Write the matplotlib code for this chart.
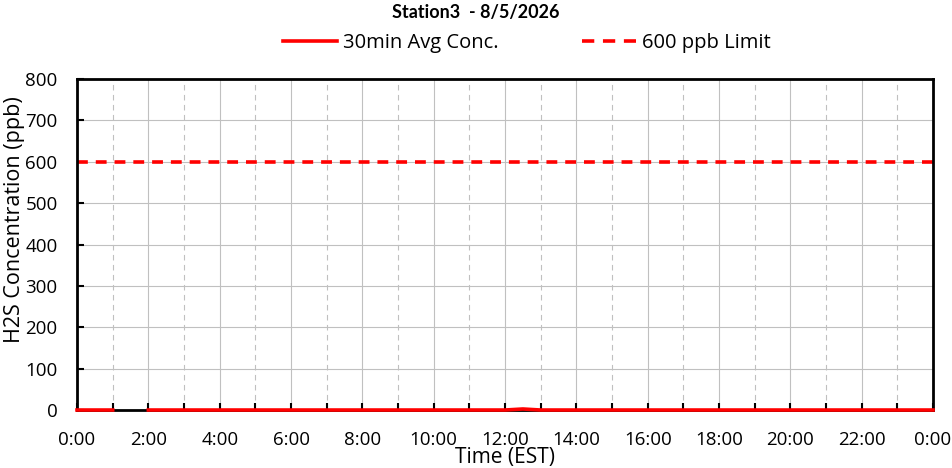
import numpy as np
import matplotlib.pyplot as plt
from matplotlib.lines import Line2D

plt.rcParams['font.family'] = ['Open Sans', 'DejaVu Sans']

# --- data: 30 min averages, hours since midnight ---
hours = np.arange(0, 24.5, 0.5)
conc = np.zeros(len(hours))
conc[3] = np.nan          # 1:30 missing
conc[25] = 2.5            # 12:30 small bump
limit = 600
tick_hours = list(range(0, 25, 2))
tick_labels = [f"{h % 24}:00" for h in tick_hours]

fig = plt.figure(figsize=(9.52, 4.68), dpi=100)
ax = fig.add_axes([0.0809, 0.1239, 0.8992, 0.7073])

# grid: solid on even hours, dashed on odd hours
for h in range(1, 24):
    if h % 2 == 0:
        ax.axvline(h, color='#c0c0c0', lw=0.8, zorder=0)
    else:
        ax.axvline(h, color='#c0c0c0', lw=0.8, ls=(0, (5, 4)), zorder=0)
for v in range(100, 800, 100):
    ax.axhline(v, color='#c0c0c0', lw=0.8, zorder=0)

ax.plot(hours, conc, color='#ff0000', lw=2.6, zorder=5, clip_on=False)
ax.axhline(limit, color='#ff0000', lw=2.6, ls=(0, (3, 2.2)), zorder=3)

ax.set_xlim(0, 24)
ax.set_ylim(0, 800)
ax.set_xticks(tick_hours)
ax.set_xticklabels(tick_labels)
ax.set_xticks(range(0, 25), minor=True)
ax.set_yticks(range(0, 801, 100))
ax.tick_params(axis='both', which='both', direction='in', labelsize=13.5, width=1.5, length=5)
ax.tick_params(axis='x', which='major', pad=15)
ax.tick_params(axis='y', pad=14)
for s in ax.spines.values():
    s.set_linewidth(2)
    s.set_zorder(4)

ax.set_xlabel('Time (EST)', fontsize=15, labelpad=-1)
ax.set_ylabel('H2S Concentration (ppb)', fontsize=15.5, labelpad=0)
ax.yaxis.label.set_y(0.574)

fig.text(0.5, 0.974, 'Station3  - 8/5/2026', ha='center', va='center', fontsize=13,
         fontweight='bold', family=['Lato', 'DejaVu Sans'])

handles = [Line2D([], [], color='#ff0000', lw=2.6),
           Line2D([], [], color='#ff0000', lw=2.6, ls=(0, (3.4, 2.4)))]
fig.legend(handles, ['30min Avg Conc.', '600 ppb Limit'], loc='upper left',
           bbox_to_anchor=(283 / 952, 0.929), ncol=2, frameon=False, fontsize=14.5,
           handlelength=2.7, handletextpad=0.3, columnspacing=4.1,
           borderpad=0, borderaxespad=0)

fig.savefig('out.png', dpi=100)
